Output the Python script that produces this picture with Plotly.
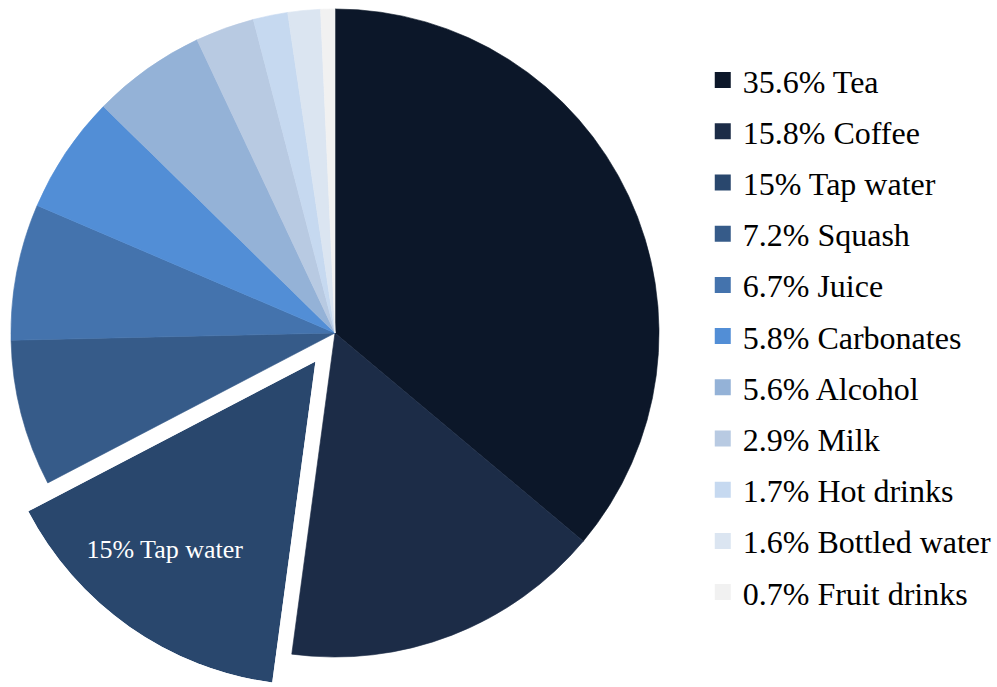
import math
import plotly.graph_objects as go

# Share of total drinks consumed, by type
drinks = ["Tea", "Coffee", "Tap water", "Squash", "Juice", "Carbonates",
          "Alcohol", "Milk", "Hot drinks", "Bottled water", "Fruit drinks"]
shares = [35.6, 15.8, 15, 7.2, 6.7, 5.8, 5.6, 2.9, 1.7, 1.6, 0.7]
colors = ["#0c1729", "#1c2c47", "#29476d", "#365b89", "#4473ad", "#528ed6",
          "#94b2d7", "#b8cae2", "#c6d9f0", "#dbe5f1", "#f1f1f1"]
highlight = "Tap water"

W, H = 997, 687
FONT = "Liberation Serif, Times New Roman, serif"
CLEAR = "rgba(0,0,0,0)"

# pie geometry in pixels
cx, cy, r = 336, 333, 325
pull = 0.105

labels = [f"{v:g}% {d}" for d, v in zip(drinks, shares)]
hi = drinks.index(highlight)

# angles of the exploded slice, clockwise from 12 o'clock
total = sum(shares)
start_cw = sum(shares[:hi]) / total * 360
span = shares[hi] / total * 360
mid_cw = start_cw + span / 2
dx = math.sin(math.radians(mid_cw)) * pull * r
dy = -math.cos(math.radians(mid_cw)) * pull * r
scx, scy = cx + dx, cy + dy


def sector_bbox(s0, s1):
    """Bounding box of a polar sector (unit radius, origin included)."""
    arc = s1 - s0
    a0 = s0 % 360
    a1 = a0 + arc
    ax0, ay0 = math.cos(math.radians(a0)), math.sin(math.radians(a0))
    ax1, ay1 = math.cos(math.radians(a1)), math.sin(math.radians(a1))
    if (a0 <= 90 <= a1) or (a0 > 90 and a1 >= 450):
        y1 = 1
    elif ay0 <= 0 and ay1 <= 0:
        y1 = 0
    else:
        y1 = max(ay0, ay1)
    if (a0 <= 180 <= a1) or (a0 > 180 and a1 >= 540):
        x0 = -1
    elif ax0 >= 0 and ax1 >= 0:
        x0 = 0
    else:
        x0 = min(ax0, ax1)
    if (a0 <= 270 <= a1) or (a0 > 270 and a1 >= 630):
        y0 = -1
    elif ay0 >= 0 and ay1 >= 0:
        y0 = 0
    else:
        y0 = min(ay0, ay1)
    if a1 >= 360:
        x1 = 1
    elif ax0 <= 0 and ax1 <= 0:
        x1 = 0
    else:
        x1 = max(ax0, ax1)
    return x0, y0, x1, y1


# polar sector holding only the exploded slice
sector = [(90 - start_cw - span) % 360, (90 - start_cw - span) % 360 + span]
bx0, by0, bx1, by1 = sector_bbox(*sector)
polar_domain = dict(
    x=[(scx + bx0 * r) / W, (scx + bx1 * r) / W],
    y=[1 - (scy - by0 * r) / H, 1 - (scy - by1 * r) / H],
)
pie_domain = dict(x=[(cx - r) / W, (cx + r) / W],
                  y=[1 - (cy + r) / H, 1 - (cy - r) / H])

base_colors = [CLEAR if i == hi else c for i, c in enumerate(colors)]

fig = go.Figure()

fig.add_trace(go.Pie(
    labels=drinks, values=shares, sort=False, direction="clockwise",
    domain=pie_domain, showlegend=False, textinfo="none",
    hoverinfo="label+percent",
    marker=dict(colors=base_colors, line=dict(color=base_colors, width=0.6)),
))

fig.add_trace(go.Barpolar(
    r=[1], theta=[mid_cw], width=[span], subplot="polar",
    marker=dict(color=colors[hi], line=dict(width=0)),
    showlegend=False, name=highlight, hoverinfo="name",
))

fig.add_trace(go.Scatterpolar(
    r=[0.75], theta=[mid_cw + 3.3], subplot="polar", mode="text",
    text=[labels[hi]], cliponaxis=False, showlegend=False, hoverinfo="skip",
    textfont=dict(family=FONT, size=26, color="white"),
))

# legend entries
for i, (lab, c) in enumerate(zip(labels, colors)):
    fig.add_trace(go.Scatter(
        x=[None], y=[None], mode="markers", name=lab, legendgroup=str(i),
        marker=dict(symbol="square", size=16, color=c, line=dict(width=0)),
    ))

fig.update_layout(
    width=W, height=H,
    margin=dict(l=0, r=0, t=0, b=0),
    paper_bgcolor="white", plot_bgcolor="white",
    xaxis=dict(visible=False), yaxis=dict(visible=False),
    polar=dict(
        domain=polar_domain, sector=sector, hole=0, bgcolor=CLEAR,
        radialaxis=dict(visible=False, range=[0, 1]),
        angularaxis=dict(visible=False, rotation=90, direction="clockwise"),
    ),
    legend=dict(
        x=0.707, xanchor="left", y=0.5105, yanchor="middle",
        font=dict(family=FONT, size=32, color="black"),
        tracegroupgap=6.6, itemsizing="trace",
        bgcolor=CLEAR, borderwidth=0,
    ),
)

fig.write_html("out.html")
